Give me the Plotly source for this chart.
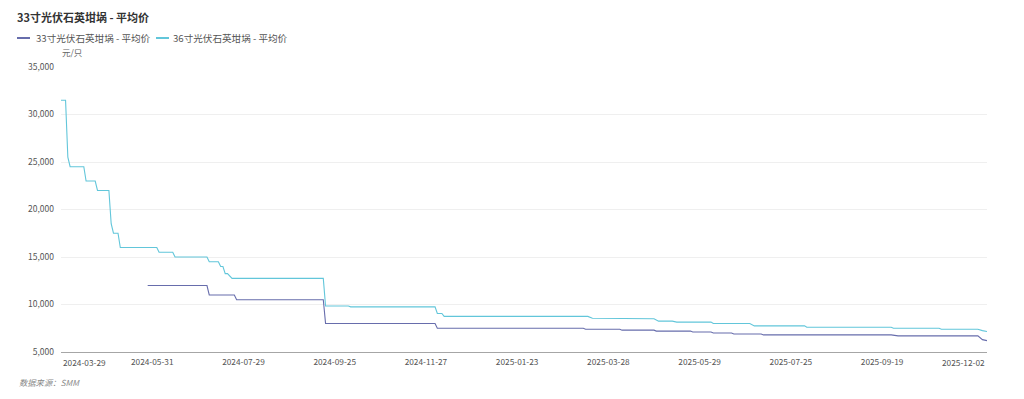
import plotly.graph_objects as go

# ---------------- data ----------------
dates_36 = [
    "2024-03-29", "2024-04-02", "2024-04-03", "2024-04-08", "2024-04-16", "2024-04-17",
    "2024-04-23", "2024-04-24", "2024-05-06", "2024-05-07", "2024-05-08", "2024-05-10",
    "2024-05-13", "2024-06-04", "2024-06-05", "2024-06-14", "2024-06-17", "2024-07-05",
    "2024-07-08", "2024-07-12", "2024-07-15", "2024-07-16", "2024-07-17", "2024-07-18",
    "2024-07-22", "2024-09-18", "2024-09-19", "2024-10-10", "2024-10-11", "2024-12-03",
    "2024-12-04", "2024-12-06", "2024-12-09", "2025-03-17", "2025-03-19", "2025-04-08",
    "2025-04-09", "2025-04-28", "2025-04-30", "2025-05-13", "2025-05-15", "2025-06-06",
    "2025-06-09", "2025-07-01", "2025-07-03", "2025-08-04", "2025-08-05", "2025-09-25",
    "2025-09-26", "2025-11-03", "2025-11-04", "2025-11-26", "2025-11-28", "2025-12-02",
]
values_36 = [
    31500, 31500, 25500, 24500, 24500, 23000,
    23000, 22000, 22000, 18500, 17500, 17500,
    16000, 16000, 15500, 15500, 15000, 15000,
    14500, 14500, 14000, 14000, 13250, 13250,
    12750, 12750, 9850, 9850, 9750, 9750,
    9050, 9050, 8750, 8750, 8550, 8550,
    8500, 8500, 8250, 8250, 8150, 8150,
    8000, 8000, 7750, 7750, 7600, 7600,
    7500, 7500, 7400, 7400, 7250, 7150,
]

dates_33 = [
    "2024-05-29", "2024-07-05", "2024-07-08", "2024-07-23", "2024-07-24", "2024-09-18",
    "2024-09-19", "2024-12-03", "2024-12-04", "2025-03-13", "2025-03-14", "2025-04-07",
    "2025-04-08", "2025-04-28", "2025-04-29", "2025-05-23", "2025-05-26", "2025-06-06",
    "2025-06-09", "2025-06-19", "2025-06-20", "2025-07-08", "2025-07-09", "2025-09-25",
    "2025-09-30", "2025-11-26", "2025-11-28", "2025-12-02",
]
values_33 = [
    12000, 12000, 11000, 11000, 10500, 10500,
    8000, 8000, 7500, 7500, 7400, 7400,
    7300, 7300, 7200, 7200, 7100, 7100,
    7000, 7000, 6900, 6900, 6800, 6800,
    6700, 6700, 6300, 6200,
]

# non-trading weekdays (Chinese public holidays) removed from the axis
holidays = [
    "2024-04-04", "2024-04-05", "2024-05-01", "2024-05-02", "2024-05-03", "2024-06-10",
    "2024-09-16", "2024-09-17", "2024-10-01", "2024-10-02", "2024-10-03", "2024-10-04",
    "2024-10-07", "2025-01-01", "2025-01-28", "2025-01-29", "2025-01-30", "2025-01-31",
    "2025-02-03", "2025-02-04", "2025-04-04", "2025-05-01", "2025-05-02", "2025-05-05",
    "2025-06-02", "2025-10-01", "2025-10-02", "2025-10-03", "2025-10-06", "2025-10-07",
    "2025-10-08",
]

x_tick_labels = ["2024-05-31", "2024-07-29", "2024-09-25", "2024-11-27", "2025-01-23",
                 "2025-03-28", "2025-05-29", "2025-07-25", "2025-09-19"]
x_first, x_last = "2024-03-29", "2025-12-02"
y_ticks = [5000, 10000, 15000, 20000, 25000, 30000, 35000]

name_33 = "33寸光伏石英坩埚 - 平均价"
name_36 = "36寸光伏石英坩埚 - 平均价"
title_text = "33寸光伏石英坩埚 - 平均价"
unit_text = "元/只"
source_text = "数据来源：SMM"

# ---------------- styling ----------------
OFF = 8  # page body margin: figure is drawn 8px down/right of the window origin
W, H = 1024 - OFF, 399 - OFF
L, T = 61 - OFF, 67 - OFF
R = W - (987 - OFF)
B = H - (352 - OFF)
PW, PH = W - L - R, H - T - B
FONT = "Noto Sans CJK SC, Noto Sans, sans-serif"
C33 = "#676dac"
C36 = "#62c6da"


def px_x(px):  # window pixel -> paper
    return (px - OFF - L) / PW


def px_y(py):
    return (H - B - (py - OFF)) / PH


fig = go.Figure()
fig.add_trace(go.Scatter(x=dates_33, y=values_33, mode="lines", name=name_33,
                         line=dict(color=C33, width=1.1), showlegend=False))
fig.add_trace(go.Scatter(x=dates_36, y=values_36, mode="lines", name=name_36,
                         line=dict(color=C36, width=1.1), showlegend=False))

annotations = []
shapes = []
# custom legend
for (x0, x1, tx, txt, col) in [(17, 30, 34, name_33, C33), (156, 169, 171, name_36, C36)]:
    shapes.append(dict(type="line", xref="paper", yref="paper",
                       x0=px_x(x0), x1=px_x(x1), y0=px_y(38), y1=px_y(38),
                       line=dict(color=col, width=2)))
    annotations.append(dict(text=txt, xref="paper", yref="paper", x=px_x(tx), y=px_y(38.5),
                            xanchor="left", yanchor="middle", showarrow=False,
                            font=dict(size=9.6, color="#555555", family=FONT)))
# unit
annotations.append(dict(text=unit_text, xref="paper", yref="paper", x=px_x(60), y=px_y(52),
                        xanchor="left", yanchor="middle", showarrow=False,
                        font=dict(size=8.5, color="#666666", family=FONT)))
# first / last x labels (aligned to plot edges)
annotations.append(dict(text=x_first, xref="x", yref="paper", x=x_first, y=px_y(362),
                        xanchor="left", yanchor="middle", showarrow=False,
                        font=dict(size=8.3, color="#555555", family=FONT)))
annotations.append(dict(text=x_last, xref="x", yref="paper", x=x_last, y=px_y(362),
                        xanchor="right", yanchor="middle", showarrow=False,
                        font=dict(size=8.3, color="#555555", family=FONT)))
# source
annotations.append(dict(text="<i>" + source_text + "</i>", xref="paper", yref="paper",
                        x=px_x(17), y=px_y(382), xanchor="left", yanchor="middle",
                        showarrow=False, font=dict(size=8.3, color="#8a8a8a", family=FONT)))

fig.update_layout(
    width=W, height=H,
    margin=dict(l=L, r=R, t=T, b=B),
    paper_bgcolor="white", plot_bgcolor="white",
    font=dict(family=FONT, size=9, color="#555555"),
    title=dict(text="<b>" + title_text + "</b>", xref="container", yref="container",
               x=(17 - OFF) / W, y=1 - (18 - OFF) / H, xanchor="left", yanchor="middle",
               font=dict(size=11, color="#333333", family=FONT)),
    showlegend=False,
    annotations=annotations,
    shapes=shapes,
    xaxis=dict(
        type="date",
        range=[x_first, x_last],
        rangebreaks=[dict(bounds=["sat", "mon"]), dict(values=holidays)],
        tickmode="array", tickvals=x_tick_labels, ticktext=x_tick_labels,
        showgrid=False, zeroline=False,
        showline=True, linecolor="#a6a6a6", linewidth=1,
        ticks="", tickfont=dict(size=8.3, color="#555555", family=FONT),
        ticklabelstandoff=2,
    ),
    yaxis=dict(
        range=[5000, 35000],
        tickvals=y_ticks, tickformat=",d",
        showgrid=True, gridcolor="#efefef", gridwidth=1,
        zeroline=False, showline=False, ticks="",
        tickfont=dict(size=8.5, color="#555555", family=FONT),
        ticklabelstandoff=6,
    ),
)

fig.write_html("out.html")
